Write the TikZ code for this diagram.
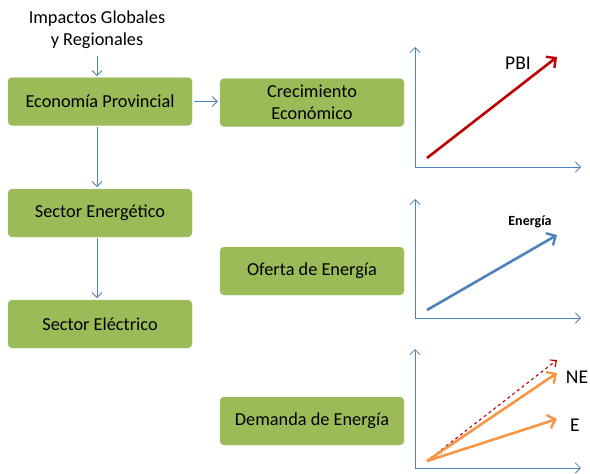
\documentclass[tikz,border=0pt]{standalone}
\usepackage{fontspec}
\setmainfont{Carlito}
\usepackage{xcolor}
\definecolor{cajaverde}{RGB}{155,187,89}
\definecolor{bordeverde}{RGB}{178,204,128}
\definecolor{ejeazul}{RGB}{79,129,189}
\definecolor{pbirojo}{RGB}{192,0,0}
\definecolor{demnaranja}{RGB}{247,150,70}
\usetikzlibrary{arrows.meta,positioning}

\tikzset{
  caja/.style={draw=bordeverde, fill=cajaverde, rounded corners=4pt, minimum width=184pt, minimum height=48pt, align=center, font=\fontsize{18.3}{22}\selectfont},
  flecha/.style={draw=ejeazul, line width=0.8pt, -{Straight Barb[length=5pt,width=10pt]}},
  eje/.style={draw=ejeazul, line width=0.8pt, -{Straight Barb[length=5pt,width=10pt]}},
  vector/.style={line width=2.6pt, -{Straight Barb[length=7pt,width=14pt,line width=2.4pt]}},
  etiqueta/.style={font=\fontsize{19.5}{23}\selectfont}
}

\begin{document}
\begin{tikzpicture}[x=1pt,y=-1pt]
  \useasboundingbox (0,0) rectangle (590,474);
  % bloques de la izquierda
  \node[align=center, font=\fontsize{18.3}{22}\selectfont] (impactos) at (97,30) {Impactos Globales\\y Regionales};
  \node[caja] (economia) at (100,101.5) {Economía Provincial};
  \node[caja] (energetico) at (100,213) {Sector Energético};
  \node[caja] (electrico) at (100,324) {Sector Eléctrico};
  % bloques del medio
  \node[caja] (crecimiento) at (312,102.5) {Crecimiento\\Económico};
  \node[caja] (oferta) at (312,271) {Oferta de Energía};
  \node[caja] (demanda) at (312,421) {Demanda de Energía};
  % flechas entre bloques
  \draw[flecha] (impactos.south -| 97,0) ++(0,4) -- (97,76);
  \draw[flecha] (economia.east) ++(2,0) -- ([xshift=-2pt]crecimiento.west |- economia.east);
  \draw[flecha] (97,127) -- (97,187);
  \draw[flecha] (97,238) -- (97,298);
  % grafico PBI
  \coordinate (o1) at (415,167);
  \coordinate (y1) at (415,47);
  \coordinate (x1) at (581,167);
  \draw[eje] (o1) -- (y1);
  \draw[eje] (o1) -- (x1);
  \coordinate (p0) at (427,158);
  \coordinate (p1) at (557,57);
  \draw[vector, draw=pbirojo] (p0) -- (p1);
  \node[etiqueta] (pbi) at (518,63) {PBI};
  % grafico oferta
  \coordinate (o2) at (415,318);
  \coordinate (y2) at (415,199);
  \coordinate (x2) at (581,318);
  \draw[eje] (o2) -- (y2);
  \draw[eje] (o2) -- (x2);
  \coordinate (e0) at (427,310);
  \coordinate (e1) at (557,235);
  \draw[vector, draw=ejeazul] (e0) -- (e1);
  \node[font=\fontsize{14}{17}\selectfont\bfseries] (energia) at (530,222) {Energía};
  % grafico demanda
  \coordinate (o3) at (415,468);
  \coordinate (y3) at (415,349);
  \coordinate (x3) at (581,468);
  \draw[eje] (o3) -- (y3);
  \draw[eje] (o3) -- (x3);
  \coordinate (d0) at (427,461);
  \coordinate (d1) at (557,360);
  \coordinate (d2) at (557,373);
  \coordinate (d3) at (557,419);
  \draw[draw=pbirojo, line width=1.1pt, dashed, -{Straight Barb[length=5pt,width=9pt]}] (d0) -- (d1);
  \draw[vector, draw=demnaranja] (d0) -- (d2);
  \draw[vector, draw=demnaranja] (d0) -- (d3);
  \node[etiqueta] (ne) at (577,377) {NE};
  \node[etiqueta] (e) at (575,425) {E};
\end{tikzpicture}
\end{document}
